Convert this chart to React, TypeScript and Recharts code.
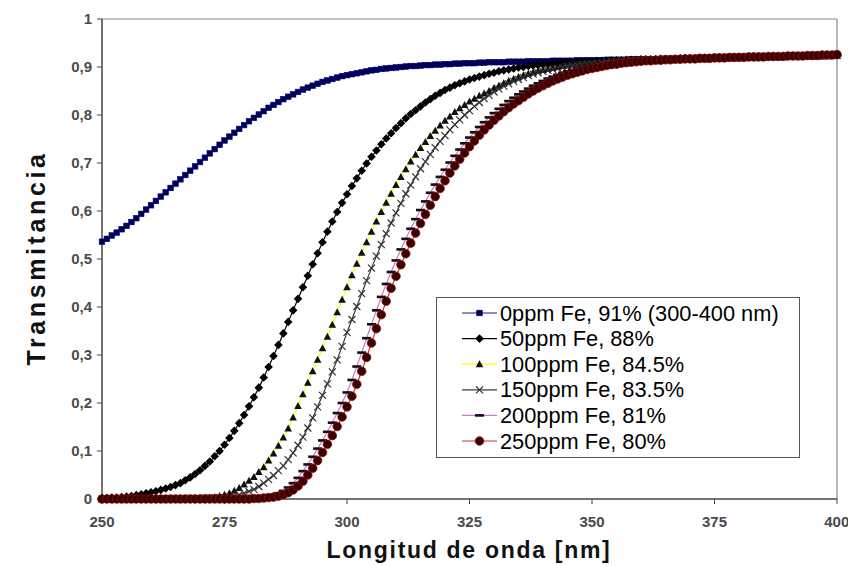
import React from 'react';
import { LineChart, Line, XAxis, YAxis, Legend, ReferenceLine, Label } from 'recharts';

// Wavelength grid (nm), one sample per nm from 250 to 400
const START_NM = 250;
const wavelengths: number[] = Array.from({ length: 151 }, (_, i) => START_NM + i);

const xTicks = [250, 275, 300, 325, 350, 375, 400];
const yTicks = [0, 0.1, 0.2, 0.3, 0.4, 0.5, 0.6, 0.7, 0.8, 0.9, 1];

const fe0 = [
  .536, .542, .549, .555, .562, .569, .577, .585, .594, .603,
  .612, .621, .630, .639, .648, .657, .666, .675, .684, .693,
  .702, .711, .720, .729, .738, .747, .755, .763, .771, .779,
  .787, .794, .801, .808, .815, .821, .827, .833, .838, .843,
  .848, .853, .857, .861, .865, .869, .872, .875, .878, .881,
  .883, .885, .887, .889, .891, .893, .894, .896, .897, .898,
  .899, .900, .901, .902, .902, .903, .904, .904, .905, .905,
  .906, .906, .907, .907, .908, .908, .908, .909, .909, .910,
  .910, .910, .910, .911, .911, .911, .911, .912, .912, .912,
  .912, .912, .913, .913, .913, .913, .913, .914, .914, .914,
  .914, .914, .914, .915, .915, .915, .915, .915, .916, .916,
  .916, .916, .916, .916, .917, .917, .917, .917, .917, .918,
  .918, .918, .918, .918, .919, .919, .919, .919, .919, .920,
  .920, .920, .920, .920, .921, .921, .921, .921, .921, .922,
  .922, .922, .922, .923, .923, .923, .923, .924, .924, .924,
  .925,
];

const fe50 = [
  .002, .002, .003, .003, .004, .005, .006, .008, .010, .012,
  .014, .016, .019, .022, .025, .029, .033, .039, .045, .052,
  .060, .069, .078, .089, .100, .113, .127, .142, .158, .175,
  .193, .212, .232, .253, .275, .298, .321, .345, .369, .393,
  .417, .441, .465, .489, .512, .535, .557, .578, .598, .617,
  .635, .652, .668, .684, .699, .713, .726, .739, .751, .762,
  .773, .783, .793, .802, .810, .818, .826, .833, .840, .846,
  .852, .857, .862, .866, .870, .874, .877, .880, .883, .886,
  .888, .891, .893, .895, .897, .899, .900, .902, .903, .904,
  .905, .906, .907, .908, .909, .910, .910, .911, .911, .912,
  .912, .913, .913, .913, .914, .914, .914, .915, .915, .915,
  .916, .916, .916, .916, .917, .917, .917, .917, .918, .918,
  .918, .918, .919, .919, .919, .919, .920, .920, .920, .920,
  .921, .921, .921, .921, .922, .922, .922, .922, .922, .923,
  .923, .923, .923, .923, .924, .924, .924, .924, .925, .925,
  .925,
];

const fe100 = [
  .000, .000, .000, .000, .000, .000, .000, .000, .000, .000,
  .000, .000, .000, .000, .001, .001, .001, .001, .002, .002,
  .002, .003, .003, .004, .006, .009, .012, .017, .023, .030,
  .038, .046, .056, .066, .080, .095, .111, .128, .147, .170,
  .194, .218, .242, .266, .290, .314, .338, .363, .389, .415,
  .441, .466, .490, .513, .535, .557, .578, .598, .617, .636,
  .654, .671, .687, .703, .717, .731, .744, .756, .767, .778,
  .788, .797, .806, .814, .821, .828, .834, .840, .845, .850,
  .856, .861, .866, .871, .875, .879, .883, .886, .889, .892,
  .894, .896, .898, .900, .902, .903, .905, .906, .907, .908,
  .909, .910, .911, .911, .912, .912, .913, .913, .914, .914,
  .915, .915, .915, .916, .916, .916, .916, .917, .917, .917,
  .917, .918, .918, .918, .918, .919, .919, .919, .919, .919,
  .920, .920, .920, .920, .920, .921, .921, .921, .921, .921,
  .921, .922, .922, .922, .922, .922, .922, .923, .923, .923,
  .923,
];

const fe150 = [
  .000, .000, .000, .000, .000, .000, .000, .000, .000, .000,
  .000, .000, .000, .000, .000, .000, .000, .000, .001, .001,
  .001, .002, .002, .002, .003, .003, .004, .006, .009, .012,
  .016, .020, .026, .033, .041, .049, .059, .069, .082, .096,
  .112, .129, .148, .169, .192, .216, .240, .265, .290, .318,
  .347, .374, .401, .428, .455, .481, .506, .530, .553, .575,
  .596, .616, .636, .654, .671, .688, .703, .718, .732, .745,
  .757, .769, .780, .790, .800, .809, .818, .826, .834, .841,
  .848, .854, .860, .865, .870, .874, .878, .882, .885, .888,
  .891, .893, .895, .897, .899, .901, .902, .904, .905, .906,
  .907, .908, .909, .910, .911, .911, .912, .912, .913, .913,
  .914, .914, .915, .915, .915, .916, .916, .916, .917, .917,
  .917, .917, .918, .918, .918, .918, .919, .919, .919, .919,
  .920, .920, .920, .920, .920, .921, .921, .921, .921, .921,
  .922, .922, .922, .922, .922, .923, .923, .923, .923, .924,
  .924,
];

const fe200 = [
  .000, .000, .000, .000, .000, .000, .000, .000, .000, .000,
  .000, .000, .000, .000, .000, .000, .000, .000, .000, .000,
  .000, .000, .000, .000, .000, .000, .000, .001, .001, .001,
  .001, .002, .003, .004, .006, .008, .012, .017, .024, .033,
  .044, .058, .072, .088, .105, .122, .140, .159, .179, .200,
  .222, .248, .276, .305, .335, .364, .393, .421, .448, .473,
  .497, .520, .542, .563, .583, .602, .620, .638, .655, .671,
  .686, .701, .715, .728, .741, .753, .764, .775, .785, .795,
  .804, .813, .821, .829, .836, .843, .849, .855, .861, .866,
  .871, .876, .880, .884, .888, .891, .894, .897, .899, .901,
  .903, .905, .907, .908, .909, .910, .911, .912, .913, .913,
  .914, .914, .915, .915, .915, .916, .916, .916, .916, .917,
  .917, .917, .917, .918, .918, .918, .918, .919, .919, .919,
  .919, .920, .920, .920, .920, .921, .921, .921, .921, .921,
  .922, .922, .922, .922, .923, .923, .923, .923, .924, .924,
  .924,
];

const fe250 = [
  .000, .000, .000, .000, .000, .000, .000, .000, .000, .000,
  .000, .000, .000, .000, .000, .000, .000, .000, .000, .000,
  .000, .000, .000, .000, .000, .000, .000, .000, .000, .000,
  .000, .001, .001, .002, .003, .004, .006, .009, .013, .019,
  .027, .037, .050, .064, .080, .097, .114, .132, .151, .171,
  .192, .214, .239, .266, .295, .325, .355, .384, .412, .439,
  .464, .488, .511, .533, .554, .574, .593, .612, .630, .647,
  .663, .679, .694, .708, .721, .734, .746, .758, .769, .779,
  .789, .798, .807, .815, .823, .830, .837, .844, .850, .856,
  .861, .866, .871, .875, .879, .883, .886, .889, .892, .895,
  .897, .899, .901, .903, .905, .906, .908, .909, .910, .911,
  .912, .913, .913, .914, .914, .915, .915, .916, .916, .917,
  .917, .917, .918, .918, .918, .919, .919, .919, .920, .920,
  .920, .920, .921, .921, .921, .921, .922, .922, .922, .922,
  .923, .923, .923, .923, .924, .924, .924, .925, .925, .925,
  .926,
];

const seriesNames = [
  '0ppm Fe, 91% (300-400 nm)',
  '50ppm Fe, 88%',
  '100ppm Fe, 84.5%',
  '150ppm Fe, 83.5%',
  '200ppm Fe, 81%',
  '250ppm Fe, 80%',
];
const seriesKeys = ['fe0', 'fe50', 'fe100', 'fe150', 'fe200', 'fe250'];
const seriesValues = [fe0, fe50, fe100, fe150, fe200, fe250];
const lineColors = ['#1a1a80', '#000000', '#ffff00', '#3a3a3a', '#cc77cc', '#cc3333'];
const markerKinds = ['square', 'diamond', 'triangle', 'cross', 'dash', 'circle'];

const data = wavelengths.map((nm, i) => {
  const row: Record<string, number> = { nm };
  seriesKeys.forEach((k, s) => {
    row[k] = seriesValues[s][i];
  });
  return row;
});

function Marker({ kind, cx, cy }: { kind: string; cx: number; cy: number }) {
  switch (kind) {
    case 'square':
      return <rect x={cx - 2.8} y={cy - 2.8} width={5.6} height={5.6} fill="#000050" stroke="#000080" strokeWidth={0.6} />;
    case 'diamond':
      return <polygon points={`${cx},${cy - 4.3} ${cx + 4.3},${cy} ${cx},${cy + 4.3} ${cx - 4.3},${cy}`} fill="#000" />;
    case 'triangle':
      return <polygon points={`${cx},${cy - 4} ${cx + 3.8},${cy + 3} ${cx - 3.8},${cy + 3}`} fill="#111" />;
    case 'cross':
      return (
        <g stroke="#333" strokeWidth={1.2}>
          <line x1={cx - 3.5} y1={cy - 3.5} x2={cx + 3.5} y2={cy + 3.5} />
          <line x1={cx - 3.5} y1={cy + 3.5} x2={cx + 3.5} y2={cy - 3.5} />
        </g>
      );
    case 'dash':
      return <rect x={cx - 4.5} y={cy - 1.3} width={9} height={2.6} fill="#111" />;
    case 'circle':
    default:
      return <circle cx={cx} cy={cy} r={4.3} fill="#3d0000" stroke="#8a1010" strokeWidth={0.8} />;
  }
}

const makeDot = (kind: string) => (props: any) => {
  const { cx, cy, index } = props;
  if (cx == null || cy == null) return <g key={`d-${kind}-${index}`} />;
  return (
    <g key={`d-${kind}-${index}`}>
      <Marker kind={kind} cx={cx} cy={cy} />
    </g>
  );
};

const FONT = '"Liberation Sans", Arial, sans-serif';

const LegendBox = () => (
  <div
    style={{
      width: 364,
      height: 161,
      border: '1px solid #555',
      background: '#fff',
      boxSizing: 'border-box',
      fontFamily: FONT,
    }}
  >
    <svg width={362} height={159}>
      {seriesNames.map((name, i) => {
        const cy = 15 + i * 25.6;
        return (
          <g key={name}>
            <line x1={25} x2={60} y1={cy} y2={cy} stroke={lineColors[i]} strokeWidth={1.2} />
            <Marker kind={markerKinds[i]} cx={42.5} cy={cy} />
            <text x={63} y={cy + 7.5} fontSize={21.8} fill="#000" fontFamily={FONT}>
              {name}
            </text>
          </g>
        );
      })}
    </svg>
  </div>
);

export default function App() {
  return (
    <div style={{ position: 'absolute', left: 0, top: 0, width: 848, height: 566, background: '#fff' }}>
      <LineChart
        width={848}
        height={566}
        data={data}
        margin={{ top: 19, right: 11, bottom: 0, left: 0 }}
      >
        <XAxis
          dataKey="nm"
          type="number"
          domain={[250, 400]}
          ticks={xTicks}
          height={67}
          tickSize={5}
          tickMargin={12}
          axisLine={{ stroke: '#444', strokeWidth: 1.5 }}
          tickLine={{ stroke: '#444' }}
          tick={{ fill: '#4a4a4a', fontSize: 15, fontWeight: 'bold', fontFamily: FONT }}
        >
          <Label
            content={() => (
              <text
                x={469}
                y={558}
                textAnchor="middle"
                fontSize={23}
                fontWeight="bold"
                letterSpacing={1.7}
                fill="#111"
                fontFamily={FONT}
              >
                Longitud de onda [nm]
              </text>
            )}
          />
        </XAxis>
        <YAxis
          type="number"
          domain={[0, 1]}
          ticks={yTicks}
          width={102}
          tickSize={5}
          tickMargin={5}
          axisLine={{ stroke: '#444', strokeWidth: 1.5 }}
          tickLine={{ stroke: '#444' }}
          tickFormatter={(v: number) => String(v).replace('.', ',')}
          tick={{ fill: '#4a4a4a', fontSize: 15, fontWeight: 'bold', fontFamily: FONT }}
        >
          <Label
            content={() => (
              <text
                x={45}
                y={258}
                transform="rotate(-90 45 258)"
                textAnchor="middle"
                fontSize={25}
                fontWeight="bold"
                letterSpacing={3.6}
                fill="#111"
                fontFamily={FONT}
              >
                Transmitancia
              </text>
            )}
          />
        </YAxis>
        <ReferenceLine y={1} stroke="#888" strokeWidth={1.2} />
        <ReferenceLine x={400} stroke="#888" strokeWidth={1.2} />
        {seriesKeys.map((k, i) => (
          <Line
            key={k}
            dataKey={k}
            name={seriesNames[i]}
            type="linear"
            stroke={lineColors[i]}
            strokeWidth={1.2}
            dot={makeDot(markerKinds[i])}
            activeDot={false}
            isAnimationActive={false}
          />
        ))}
        <Legend
          layout="vertical"
          align="center"
          verticalAlign="middle"
          content={() => <LegendBox />}
          wrapperStyle={{ position: 'absolute', left: 436, top: 297, width: 364, height: 161 }}
        />
      </LineChart>
    </div>
  );
}
